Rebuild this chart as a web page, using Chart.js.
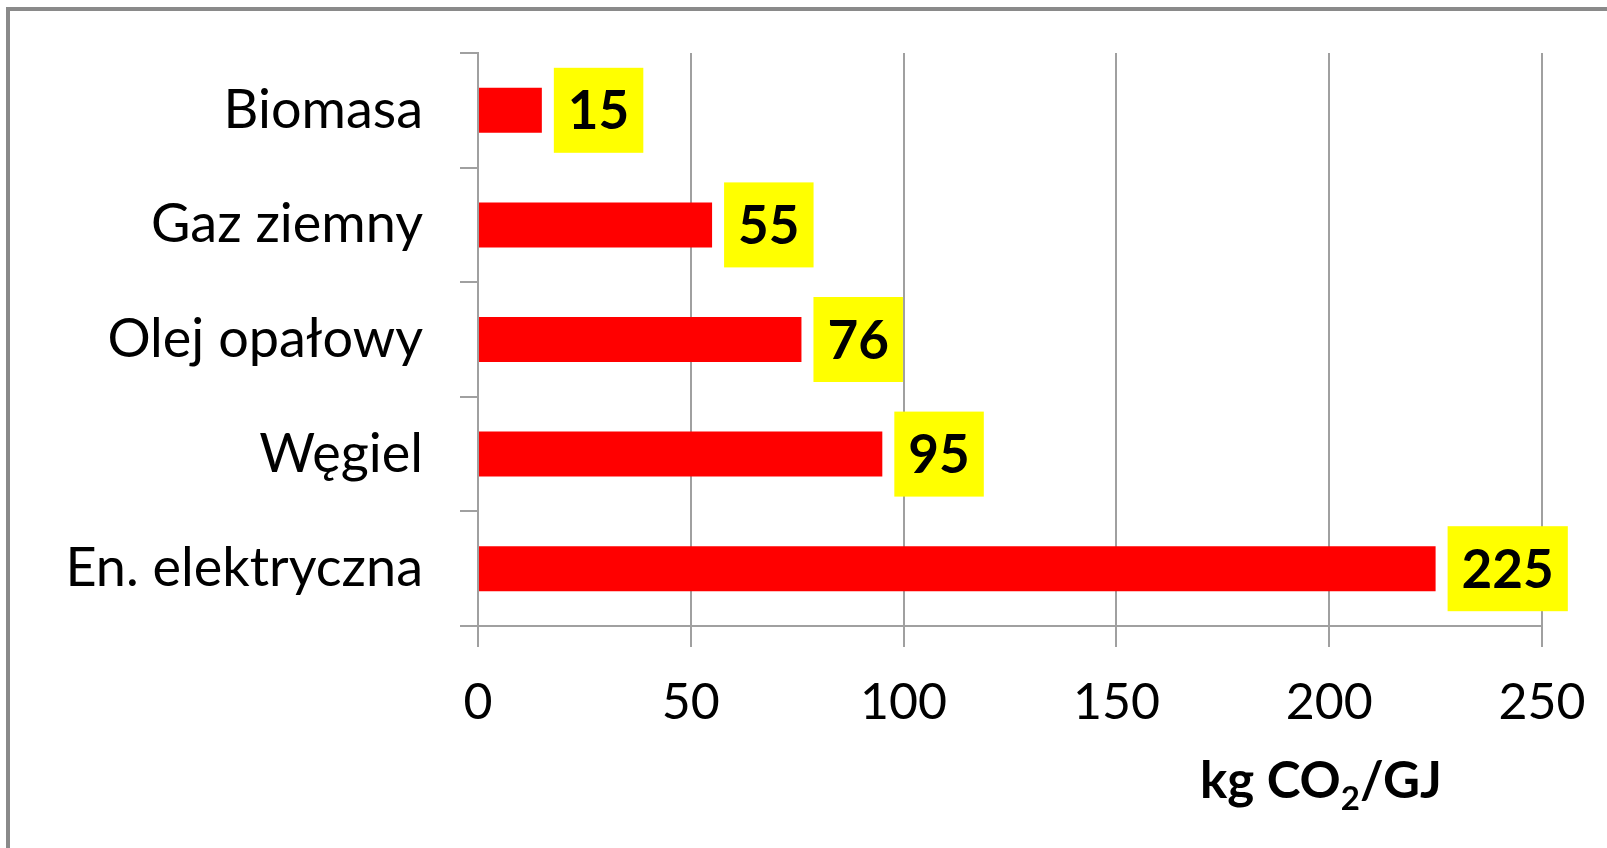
<!DOCTYPE html>
<html>
<head>
<meta charset="utf-8">
<script src="https://cdn.jsdelivr.net/npm/chart.js@4.4.1/dist/chart.umd.min.js"></script>
<style>
  html, body { margin: 0; padding: 0; background: #fff; }
  #wrap { width: 1607px; height: 848px; position: relative; }
</style>
</head>
<body>
<div id="wrap"><canvas id="chart"></canvas></div>
<script>
const categories = ["Biomasa", "Gaz ziemny", "Olej opałowy", "Węgiel", "En. elektryczna"];
const emissions = [15, 55, 76, 95, 225];
const xTicks = [0, 50, 100, 150, 200, 250];
const unitParts = ["kg CO", "2", "/GJ"];

const FONT = "Lato, 'Open Sans', sans-serif";

/* ================= PLUGINS ================= */

// grey sheet frame (left + top edge only, rest runs off the picture)
const framePlugin = {
  id: "frame",
  beforeDraw(chart){
    const c = chart.ctx;
    c.save();
    c.strokeStyle = "#8a8a8a";
    c.lineWidth = 4;
    c.beginPath();
    c.moveTo(8, 860);
    c.lineTo(8, 9);
    c.lineTo(1620, 9);
    c.stroke();
    c.restore();
  }
};

// yellow value boxes at the bar ends
const valuePlugin = {
  id: "values",
  afterDatasetsDraw(chart){
    const c = chart.ctx;
    const meta = chart.getDatasetMeta(0);
    c.save();
    c.font = "bold 53px " + FONT;
    c.textAlign = "center";
    c.textBaseline = "alphabetic";
    meta.data.forEach((bar, i) => {
      const txt = String(emissions[i]);
      const w = c.measureText(txt).width + 28;
      const h = 85;
      const x = bar.x + 12;
      c.fillStyle = "#ffff00";
      c.fillRect(x, bar.y - h / 2, w, h);
      c.fillStyle = "#000";
      c.fillText(txt, x + w / 2, bar.y + 19);
    });
    c.restore();
  }
};

// axis unit with subscript
const unitPlugin = {
  id: "unit",
  afterDraw(chart){
    const c = chart.ctx;
    const area = chart.chartArea;
    const big = "bold 51px " + FONT;
    const small = "bold 33px " + FONT;
    c.save();
    c.fillStyle = "#000";
    c.textAlign = "left";
    c.textBaseline = "alphabetic";
    c.font = big;   const w0 = c.measureText(unitParts[0]).width;
    c.font = small; const w1 = c.measureText(unitParts[1]).width;
    c.font = big;   const w2 = c.measureText(unitParts[2]).width;
    const total = w0 + w1 + w2;
    let x = area.right - 221 - total / 2;
    const base = area.bottom + 172;
    c.font = big;   c.fillText(unitParts[0], x, base); x += w0;
    c.font = small; c.fillText(unitParts[1], x, base + 12); x += w1;
    c.font = big;   c.fillText(unitParts[2], x, base);
    c.restore();
  }
};

/* ================= CHART ================= */

function build(){
  new Chart(document.getElementById("chart"), {
    type: "bar",
    data: {
      labels: categories,
      datasets: [{
        data: emissions,
        backgroundColor: "#ff0000",
        borderWidth: 0,
        categoryPercentage: 1,
        barPercentage: 0.393
      }]
    },
    options: {
      indexAxis: "y",
      responsive: true,
      maintainAspectRatio: false,
      devicePixelRatio: 1,
      animation: false,
      layout: { padding: { left: 0, top: 53, right: 65, bottom: 0 } },
      plugins: { legend: { display: false }, tooltip: { enabled: false } },
      scales: {
        x: {
          min: xTicks[0],
          max: xTicks[xTicks.length - 1],
          afterFit: s => { s.height = 222; s.paddingRight = 0; s.paddingLeft = 0; },
          afterBuildTicks: s => { s.ticks = xTicks.map(v => ({ value: v })); },
          grid: { color: "#a0a0a0", lineWidth: 2, tickLength: 21, tickColor: "#a0a0a0" },
          border: { color: "#a0a0a0", width: 2 },
          ticks: { color: "#000", padding: 26, font: { family: FONT, size: 50 } }
        },
        y: {
          afterFit: s => { s.width = 478; s.paddingTop = 0; s.paddingBottom = 0; },
          grid: { offset: true, drawOnChartArea: false, color: "#a0a0a0", lineWidth: 2, tickLength: 18 },
          border: { color: "#a0a0a0", width: 2 },
          ticks: { color: "#000", padding: 37, font: { family: FONT, size: 54 } }
        }
      }
    },
    plugins: [framePlugin, valuePlugin, unitPlugin]
  });
}

Promise.all([
  document.fonts.load("50px Lato"),
  document.fonts.load("bold 50px Lato")
]).then(build, build);
</script>
</body>
</html>
